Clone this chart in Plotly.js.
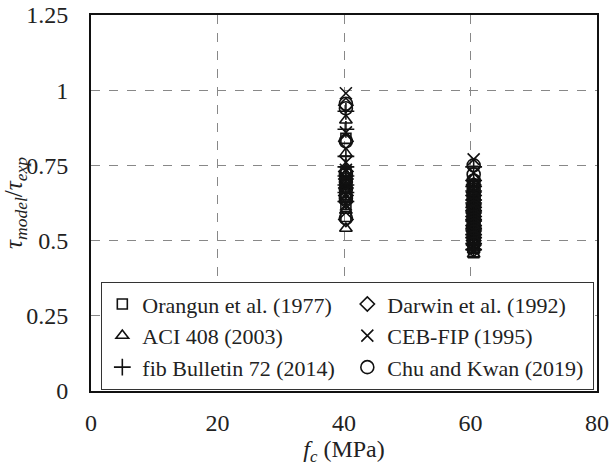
<!DOCTYPE html>
<html>
<head>
<meta charset="utf-8">
<script src="https://cdn.plot.ly/plotly-3.0.1.min.js"></script>
<style>
html,body{margin:0;padding:0;background:#fff;}
#chart{width:609px;height:466px;}
</style>
</head>
<body>
<div id="chart"></div>
<script>
// Series names
const seriesNames = [
  "Orangun et al. (1977)",
  "Darwin et al. (1992)",
  "ACI 408 (2003)",
  "CEB-FIP (1995)",
  "fib Bulletin 72 (2014)",
  "Chu and Kwan (2019)"
];
// Concrete strengths of the two specimen groups (MPa)
const fcGroupA = 40.3;
const fcGroupB = 60.5;

// tau_model / tau_exp at fc ≈ 40 MPa
const orangunA = [0.84, 0.72, 0.70, 0.69, 0.66, 0.645, 0.62, 0.58];
const darwinA  = [0.95, 0.83, 0.73, 0.705, 0.675, 0.65, 0.63, 0.57];
const aciA     = [0.90, 0.79, 0.72, 0.69, 0.665, 0.635, 0.60, 0.54];
const cebA     = [0.99, 0.86, 0.76, 0.735, 0.71, 0.68, 0.655, 0.62];
const fibA     = [0.93, 0.87, 0.78, 0.745, 0.715, 0.685, 0.66, 0.63];
const chuA     = [0.955, 0.94, 0.83, 0.72, 0.695, 0.67, 0.64, 0.575];

// tau_model / tau_exp at fc ≈ 60 MPa
const orangunB = [0.68, 0.665, 0.645, 0.63, 0.62, 0.605, 0.60, 0.585, 0.575, 0.565, 0.555, 0.545, 0.54, 0.525, 0.52, 0.505, 0.50, 0.49, 0.475, 0.46];
const darwinB  = [0.70, 0.685, 0.66, 0.65, 0.635, 0.62, 0.615, 0.60, 0.59, 0.58, 0.57, 0.565, 0.55, 0.545, 0.53, 0.52, 0.51, 0.50, 0.485, 0.47];
const aciB     = [0.69, 0.67, 0.655, 0.635, 0.625, 0.61, 0.60, 0.59, 0.585, 0.57, 0.56, 0.55, 0.54, 0.535, 0.52, 0.51, 0.50, 0.48, 0.47, 0.455];
const cebB     = [0.77, 0.725, 0.69, 0.675, 0.66, 0.645, 0.63, 0.62, 0.615, 0.60, 0.59, 0.58, 0.575, 0.56, 0.55, 0.545, 0.53, 0.52, 0.50, 0.48];
const fibB     = [0.745, 0.70, 0.68, 0.665, 0.65, 0.635, 0.625, 0.61, 0.60, 0.595, 0.58, 0.57, 0.565, 0.55, 0.54, 0.535, 0.52, 0.51, 0.49, 0.47];
const chuB     = [0.75, 0.72, 0.70, 0.685, 0.67, 0.655, 0.64, 0.635, 0.62, 0.61, 0.60, 0.595, 0.58, 0.57, 0.56, 0.55, 0.54, 0.53, 0.51, 0.49];

const seriesA = [orangunA, darwinA, aciA, cebA, fibA, chuA];
const seriesB = [orangunB, darwinB, aciB, cebB, fibB, chuB];
const symbols = ["square-open", "diamond-open", "triangle-up-open", "x-thin-open", "cross-thin-open", "circle-open"];
const sizes = [10, 11, 11, 12, 12, 13];

const traces = seriesNames.map((name, i) => ({
  type: "scatter",
  mode: "markers",
  name: name,
  x: seriesA[i].map(() => fcGroupA).concat(seriesB[i].map(() => fcGroupB)),
  y: seriesA[i].concat(seriesB[i]),
  marker: {symbol: symbols[i], size: sizes[i], color: "#111", line: {color: "#111", width: 1.6}}
}));

const serif = "Liberation Serif";
const layout = {
  width: 609, height: 466,
  margin: {l: 91, r: 12, t: 15, b: 75},
  paper_bgcolor: "#fff", plot_bgcolor: "#fff",
  font: {family: serif, size: 24, color: "#222"},
  showlegend: true,
  legend: {
    x: 0.02, y: 0.29, xanchor: "left", yanchor: "top",
    orientation: "h", entrywidth: 200, entrywidthmode: "pixels",
    bgcolor: "#fff", bordercolor: "#333", borderwidth: 1.2,
    font: {family: serif, size: 22, color: "#222"},
    tracegroupgap: 0, itemsizing: "trace"
  },
  xaxis: {
    range: [0, 80], tickvals: [0, 20, 40, 60, 80],
    showgrid: true, gridcolor: "#888", griddash: "dash", gridwidth: 1,
    zeroline: false, showline: true, linecolor: "#111", linewidth: 2, mirror: true,
    ticks: "outside", ticklen: 9, tickcolor: "rgba(0,0,0,0)",
    ticklabeloverflow: "allow",
    tickfont: {family: serif, size: 24, color: "#222"},
    title: {text: "<i>f</i><sub><i>c</i></sub> (MPa)", font: {family: serif, size: 24, color: "#222"}, standoff: 7}
  },
  yaxis: {
    range: [0, 1.25], tickvals: [0, 0.25, 0.5, 0.75, 1, 1.25],
    ticktext: ["0", "0.25", "0.5", "0.75", "1", "1.25"],
    showgrid: true, gridcolor: "#888", griddash: "dash", gridwidth: 1,
    zeroline: false, showline: true, linecolor: "#111", linewidth: 2, mirror: true,
    ticks: "outside", ticklen: 16, tickcolor: "rgba(0,0,0,0)",
    ticklabeloverflow: "allow",
    tickfont: {family: serif, size: 24, color: "#222"},
    title: {text: "<i>τ</i><sub><i>model</i></sub>/<i>τ</i><sub><i>exp</i></sub>", font: {family: serif, size: 25, color: "#222"}, standoff: 0}
  }
};

Plotly.newPlot("chart", traces, layout, {displayModeBar: false, staticPlot: true});
</script>
</body>
</html>
